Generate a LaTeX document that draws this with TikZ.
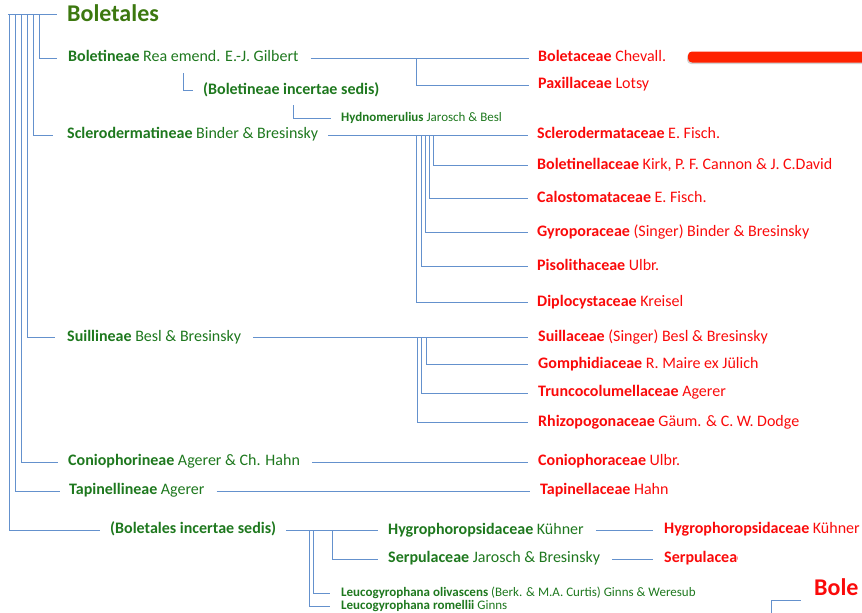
\documentclass[tikz,border=0pt]{standalone}
\usepackage{fontspec}
\setmainfont{Carlito}
\usetikzlibrary{shadows}
\definecolor{titlegreen}{RGB}{60,120,15}
\definecolor{labgreen}{RGB}{30,120,30}
\definecolor{famred}{RGB}{250,10,10}
\definecolor{treeblue}{RGB}{100,145,205}
\definecolor{barred}{RGB}{255,34,0}
\begin{document}
\begin{tikzpicture}[x=1pt,y=-1pt,
  tl/.style={draw=treeblue,line width=1pt},
  lab/.style={anchor=west,inner sep=0pt,text=labgreen,font=\fontsize{16}{18}\selectfont,text height=0.8em,text depth=0.05em},
  smalllab/.style={lab,font=\fontsize{13}{14}\selectfont,text height=0.71em},
  fam/.style={anchor=west,inner sep=0pt,text=famred,font=\fontsize{16}{18}\selectfont,text height=0.8em,text depth=0.05em},
  bigtitle/.style={anchor=west,inner sep=0pt,font=\fontsize{24}{28}\selectfont\bfseries,text height=0.45em,text depth=0.13em}]
\useasboundingbox (0,0) rectangle (862,613);
\clip (0,0) rectangle (862,613);
% red bar
\fill[barred,rounded corners=4pt,drop shadow={opacity=0.35,shadow xshift=-1pt,shadow yshift=-1.5pt}] (688,51.5) rectangle (880,62.5);
% nodes
\node[bigtitle,text=titlegreen] (title) at (67,19.5) {Boletales};
\node[lab] (n1) at (68,58) {\textbf{Boletineae} Rea emend. E.-J. Gilbert};
\node[lab] (n1i) at (203,90.5) {\textbf{(Boletineae incertae sedis)}};
\node[smalllab] (n1h) at (341,118) {\textbf{Hydnomerulius} Jarosch \& Besl};
\node[lab] (n2) at (67,135) {\textbf{Sclerodermatineae} Binder \& Bresinsky};
\node[lab] (n3) at (67,337.5) {\textbf{Suillineae} Besl \& Bresinsky};
\node[lab] (n4) at (68,462) {\textbf{Coniophorineae} Agerer \& Ch. Hahn};
\node[lab] (n5) at (69,491) {\textbf{Tapinellineae} Agerer};
\node[lab] (n6) at (110,530) {\textbf{(Boletales incertae sedis)}};
\node[lab] (n6a) at (388,530.5) {\textbf{Hygrophoropsidaceae} Kühner};
\node[lab] (n6b) at (388,559) {\textbf{Serpulaceae} Jarosch \& Bresinsky};
\node[smalllab] (n6c) at (341,593) {\textbf{Leucogyrophana olivascens} (Berk. \& M.A. Curtis) Ginns \& Weresub};
\node[smalllab] (n6d) at (341,606) {\textbf{Leucogyrophana romellii} Ginns};
\node[fam] (r1) at (538,58) {\textbf{Boletaceae} Chevall.};
\node[fam] (r2) at (538,85) {\textbf{Paxillaceae} Lotsy};
\node[fam] (r3) at (537,135) {\textbf{Sclerodermataceae} E. Fisch.};
\node[fam] (r4) at (537,165.5) {\textbf{Boletinellaceae} Kirk, P. F. Cannon \& J. C.David};
\node[fam] (r5) at (537,198.5) {\textbf{Calostomataceae} E. Fisch.};
\node[fam] (r6) at (537,232.5) {\textbf{Gyroporaceae} (Singer) Binder \& Bresinsky};
\node[fam] (r7) at (537,266.5) {\textbf{Pisolithaceae} Ulbr.};
\node[fam] (r8) at (537,302.5) {\textbf{Diplocystaceae} Kreisel};
\node[fam] (r9) at (538,337.5) {\textbf{Suillaceae} (Singer) Besl \& Bresinsky};
\node[fam] (r10) at (538,364.5) {\textbf{Gomphidiaceae} R. Maire ex Jülich};
\node[fam] (r11) at (538,393) {\textbf{Truncocolumellaceae} Agerer};
\node[fam] (r12) at (538,422.5) {\textbf{Rhizopogonaceae} Gäum. \& C. W. Dodge};
\node[fam] (r13) at (538,462) {\textbf{Coniophoraceae} Ulbr.};
\node[fam] (r14) at (540,491) {\textbf{Tapinellaceae} Hahn};
\node[fam] (r15) at (664,530) {\textbf{Hygrophoropsidaceae} Kühner};
\begin{scope}
\clip (600,540) rectangle (737,580);
\node[fam] (r16) at (664,559) {\textbf{Serpulaceae}};
\end{scope}
\node[bigtitle,text=famred] (r17) at (814,594) {Bole};
% root tree
\coordinate (R) at (8,14);
\draw[tl] (R) -- ([xshift=-10pt]title.west |- R);
\coordinate (j1) at (39,14);
\coordinate (j2) at (33,14);
\coordinate (j3) at (27,14);
\coordinate (j4) at (21,14);
\coordinate (j5) at (15,14);
\coordinate (j6) at (9,14);
\draw[tl] (j1) |- ([xshift=-11pt]n1.west);
\draw[tl] (j2) |- ([xshift=-14pt]n2.west);
\draw[tl] (j3) |- ([xshift=-12pt]n3.west);
\draw[tl] (j4) |- ([xshift=-10pt]n4.west);
\draw[tl] (j5) |- ([xshift=-9pt]n5.west);
\draw[tl] (j6) |- ([xshift=-10pt]n6.west);
% Boletineae
\draw[tl] ([xshift=12pt]n1.east) -- ([xshift=-9pt]r1.west);
\coordinate (b1) at (416,58);
\draw[tl] (b1) |- ([xshift=-9pt]r2.west);
\coordinate (b2) at (183,73);
\draw[tl] (b2) |- ([xshift=-10pt]n1i.west);
\coordinate (b3) at (293,105);
\draw[tl] (b3) |- ([xshift=-10pt]n1h.west);
% Sclerodermatineae
\draw[tl] ([xshift=10pt]n2.east) -- ([xshift=-9pt]r3.west);
\coordinate (s8) at (416.3,135);
\coordinate (s7) at (421.3,135);
\coordinate (s6) at (425.3,135);
\coordinate (s5) at (429.3,135);
\coordinate (s4) at (433.3,135);
\draw[tl] (s8) |- ([xshift=-9pt]r8.west);
\draw[tl] (s7) |- ([xshift=-9pt]r7.west);
\draw[tl] (s6) |- ([xshift=-9pt]r6.west);
\draw[tl] (s5) |- ([xshift=-9pt]r5.west);
\draw[tl] (s4) |- ([xshift=-9pt]r4.west);
% Suillineae
\draw[tl] ([xshift=12pt]n3.east) -- ([xshift=-10pt]r9.west);
\coordinate (u12) at (417.7,337.5);
\coordinate (u11) at (421.7,337.5);
\coordinate (u10) at (426,337.5);
\draw[tl] (u12) |- ([xshift=-10pt]r12.west);
\draw[tl] (u11) |- ([xshift=-10pt]r11.west);
\draw[tl] (u10) |- ([xshift=-10pt]r10.west);
% Coniophorineae, Tapinellineae
\draw[tl] ([xshift=12pt]n4.east) -- ([xshift=-10pt]r13.west);
\draw[tl] ([xshift=12pt]n5.east) -- ([xshift=-10pt]r14.west);
% Boletales incertae sedis
\draw[tl] ([xshift=10pt]n6.east) |- ([xshift=-10pt]n6a.west);
\coordinate (i1) at (332.3,530);
\coordinate (i2) at (313.3,530);
\coordinate (i3) at (309.3,530);
\draw[tl] (i1) |- ([xshift=-10pt]n6b.west);
\draw[tl] (i2) |- ([xshift=-11pt]n6c.west);
\draw[tl] (i3) |- ([xshift=-11pt]n6d.west);
\draw[tl] ([xshift=12pt]n6a.east |- r15.west) -- ([xshift=-11pt]r15.west);
\draw[tl] ([xshift=12pt]n6b.east) -- ([xshift=-11pt]r16.west);
% bottom right bracket
\coordinate (br) at (771,613);
\draw[tl] (br) |- ([xshift=-13pt,yshift=-6pt]r17.west);
\end{tikzpicture}
\end{document}
